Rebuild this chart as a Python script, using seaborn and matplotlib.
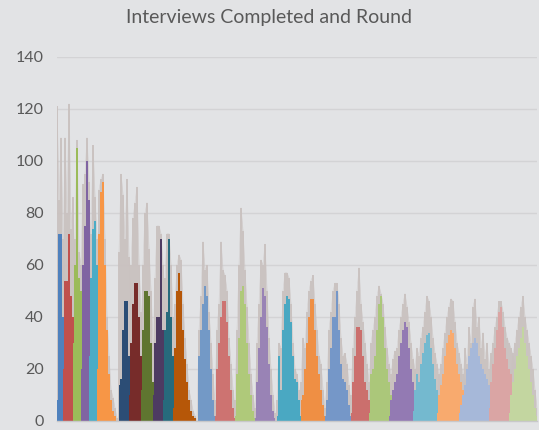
import pandas as pd
import matplotlib.pyplot as plt
import seaborn as sns

# first day (x index) of each interview round
round_start = [0, 3, 8, 12, 16, 20,
               31, 36, 42, 48, 53, 58,
               70, 79, 89, 99, 110, 122, 134, 147, 156, 166, 178, 190, 201, 216, 226]

round_colors = ['#4f81bd', '#c0504d', '#9bbb59', '#8064a2', '#4bacc6', '#f79646',
                '#2c4d75', '#772c2a', '#5f7530', '#4d3b62', '#276a7c', '#b65708',
                '#7399c6', '#cd7371', '#afc97a', '#9983b5', '#4aa8c2', '#ef8f44',
                '#7597c8', '#cb6f6d', '#abc77a', '#937ab3', '#74b9cf', '#f8aa6e',
                '#a6b8d9', '#daa5a4', '#c3d6a0']

# interviews completed per day in each round
completed = [
    [8, 72, 72, 40, 22, 12, 6, 3, 1, 0],
    [20, 54, 54, 72, 48, 40, 26, 15, 8, 4, 1, 0],
    [30, 60, 105, 55, 50, 35, 22, 12, 6, 2],
    [20, 60, 75, 100, 85, 55, 35, 20, 10, 4, 1],
    [25, 55, 74, 77, 60, 40, 22, 10, 4, 1],
    [20, 72, 88, 92, 60, 35, 18, 8, 4, 2, 0],
    [14, 16, 35, 46, 46, 25, 12, 5, 1],
    [10, 30, 45, 53, 53, 40, 25, 12, 5, 1],
    [12, 35, 50, 50, 48, 30, 15, 6, 1],
    [10, 30, 40, 40, 70, 35, 20, 8, 2],
    [8, 35, 42, 70, 40, 25, 12, 5, 1],
    [5, 28, 50, 57, 50, 35, 24, 15, 8, 4, 2, 1, 0],
    [0, 25, 35, 45, 52, 48, 35, 20, 8, 2],
    [2, 20, 30, 40, 46, 46, 38, 25, 12, 5, 1],
    [2, 18, 32, 50, 52, 45, 30, 18, 10, 4, 1],
    [1, 15, 28, 40, 51, 48, 36, 22, 10, 4, 1],
    [2, 25, 12, 35, 45, 48, 47, 38, 25, 16, 15, 8, 2],
    [8, 10, 20, 30, 40, 47, 47, 35, 25, 18, 12, 6, 2],
    [2, 8, 20, 28, 40, 40, 50, 35, 22, 16, 15, 12, 6, 2],
    [3, 15, 25, 36, 36, 35, 25, 15, 12, 8, 2],
    [3, 18, 20, 25, 35, 45, 48, 40, 28, 20, 15, 10, 12, 14, 12, 6, 3, 1],
    [2, 8, 12, 15, 18, 25, 30, 35, 38, 36, 28, 20, 15, 12, 10, 8, 7, 5, 3, 1],
    [4, 12, 18, 15, 22, 26, 30, 33, 34, 28, 22, 16, 12, 10, 9, 10, 8, 6, 8, 4, 1],
    [3, 10, 14, 18, 25, 30, 33, 35, 34, 28, 22, 18, 15, 12, 10, 8, 9, 7, 5, 4, 3, 5, 2, 1],
    [3, 6, 10, 14, 20, 25, 28, 30, 32, 30, 25, 22, 20, 18, 16, 14, 12, 10, 9, 8, 6, 5, 6, 4, 2, 1],
    [5, 15, 22, 28, 35, 42, 44, 36, 28, 24, 20, 18, 15, 13, 12, 10, 9, 8, 7, 6, 5, 3, 1],
    [3, 10, 15, 20, 25, 28, 32, 36, 30, 25, 20, 15, 10, 5, 2],
]

# total interviews per day (light grey spikes behind the rounds)
total = [
    [121, 85, 109, 70, 55, 40, 25, 14, 7, 3],
    [60, 109, 80, 122, 74, 86, 45, 30, 18, 8, 3, 1],
    [45, 70, 108, 65, 60, 91, 40, 25, 12, 5],
    [40, 85, 95, 109, 92, 60, 40, 25, 12, 6, 2],
    [40, 72, 106, 86, 70, 48, 30, 15, 6, 2],
    [40, 89, 93, 95, 70, 40, 25, 12, 9, 5, 1],
    [65, 95, 87, 70, 93, 63, 40, 20, 8],
    [25, 60, 78, 84, 90, 60, 42, 25, 12, 4],
    [30, 60, 80, 84, 66, 50, 30, 15, 5],
    [25, 55, 75, 75, 72, 60, 35, 18, 6],
    [30, 55, 72, 72, 60, 40, 22, 10, 3],
    [15, 45, 60, 64, 62, 45, 32, 22, 12, 8, 4, 2, 0],
    [0, 35, 48, 69, 58, 60, 42, 30, 18, 6],
    [8, 35, 45, 69, 58, 56, 50, 32, 22, 12, 4],
    [8, 35, 60, 82, 73, 58, 44, 30, 18, 10, 4],
    [5, 30, 45, 62, 60, 68, 50, 32, 20, 10, 3],
    [8, 30, 28, 50, 57, 57, 55, 45, 30, 20, 18, 12, 4],
    [15, 32, 28, 42, 50, 54, 56, 45, 35, 25, 22, 12, 5],
    [5, 15, 35, 42, 50, 53, 53, 45, 32, 25, 26, 22, 14, 5],
    [10, 28, 40, 50, 59, 45, 38, 30, 22, 15, 6],
    [10, 30, 35, 40, 48, 52, 49, 45, 36, 28, 22, 18, 24, 27, 22, 15, 10, 5],
    [6, 15, 20, 24, 28, 35, 40, 45, 49, 44, 38, 30, 24, 20, 16, 18, 14, 10, 6, 2],
    [10, 20, 28, 25, 32, 36, 42, 48, 46, 40, 32, 26, 22, 18, 16, 18, 15, 12, 13, 8, 3],
    [8, 18, 22, 28, 34, 40, 44, 47, 46, 38, 30, 26, 22, 18, 16, 14, 15, 12, 10, 8, 7, 9, 5, 2],
    [8, 18, 14, 28, 22, 36, 30, 44, 47, 36, 40, 28, 34, 24, 30, 20, 26, 16, 22, 12, 18, 10, 13, 6, 5, 2],
    [12, 24, 30, 36, 40, 46, 46, 42, 36, 32, 30, 28, 25, 22, 20, 18, 16, 15, 14, 12, 10, 6, 2],
    [8, 20, 26, 30, 35, 40, 44, 48, 40, 35, 30, 25, 20, 12, 5],
]

y_ticks = [0, 20, 40, 60, 80, 100, 120, 140]

rows = []
for r, (s, c, t) in enumerate(zip(round_start, completed, total)):
    for i in range(len(c)):
        rows.append({'round': r + 1, 'day': s + i, 'completed': c[i], 'total': t[i]})
df = pd.DataFrame(rows)

sns.set_theme(style='whitegrid', rc={'axes.facecolor': '#e2e3e5',
                                      'figure.facecolor': '#e2e3e5',
                                      'grid.color': '#d3d3d5',
                                      'grid.linewidth': 1.0})
plt.rcParams['font.family'] = ['Lato', 'DejaVu Sans']

fig = plt.figure(figsize=(5.39, 4.30), dpi=100)
ax = fig.add_axes([57 / 539, 9 / 430, 480 / 539, 364 / 430])

# grey spikes: thin bars of daily totals, faint body joining them
grey = '#c9c1bf'
for r, d in df.groupby('round'):
    ax.fill_between(d['day'], d['total'], color=grey, alpha=0.35, lw=0, zorder=0.7)
ax.vlines(df['day'], 0, df['total'], color=grey, lw=1.3, zorder=0.8)
sns.lineplot(data=df, x='day', y='total', units='round', estimator=None,
             color=grey, lw=0.4, alpha=0.6, ax=ax, legend=False, zorder=0.75)

for r, d in df.groupby('round'):
    ax.fill_between(d['day'], d['completed'], color=round_colors[r - 1], lw=0,
                    step='mid', zorder=1)

ax.set_xlim(0, 240)
ax.set_ylim(0, 140)
ax.set_yticks(y_ticks)
ax.set_xticks([])
ax.set_xlabel('')
ax.set_ylabel('')
ax.grid(axis='x', visible=False)
ax.tick_params(axis='y', length=0, pad=9.5, labelsize=11.5, labelcolor='#595959')
for side in ['top', 'right', 'left']:
    ax.spines[side].set_visible(False)
ax.spines['bottom'].set_color('#c8c8ca')
ax.spines['bottom'].set_linewidth(1.0)

fig.text(0.5, 1 - 18 / 430, 'Interviews Completed and Round', ha='center', va='center',
         fontsize=14, color='#595959')

fig.savefig('out.png', dpi=100)
